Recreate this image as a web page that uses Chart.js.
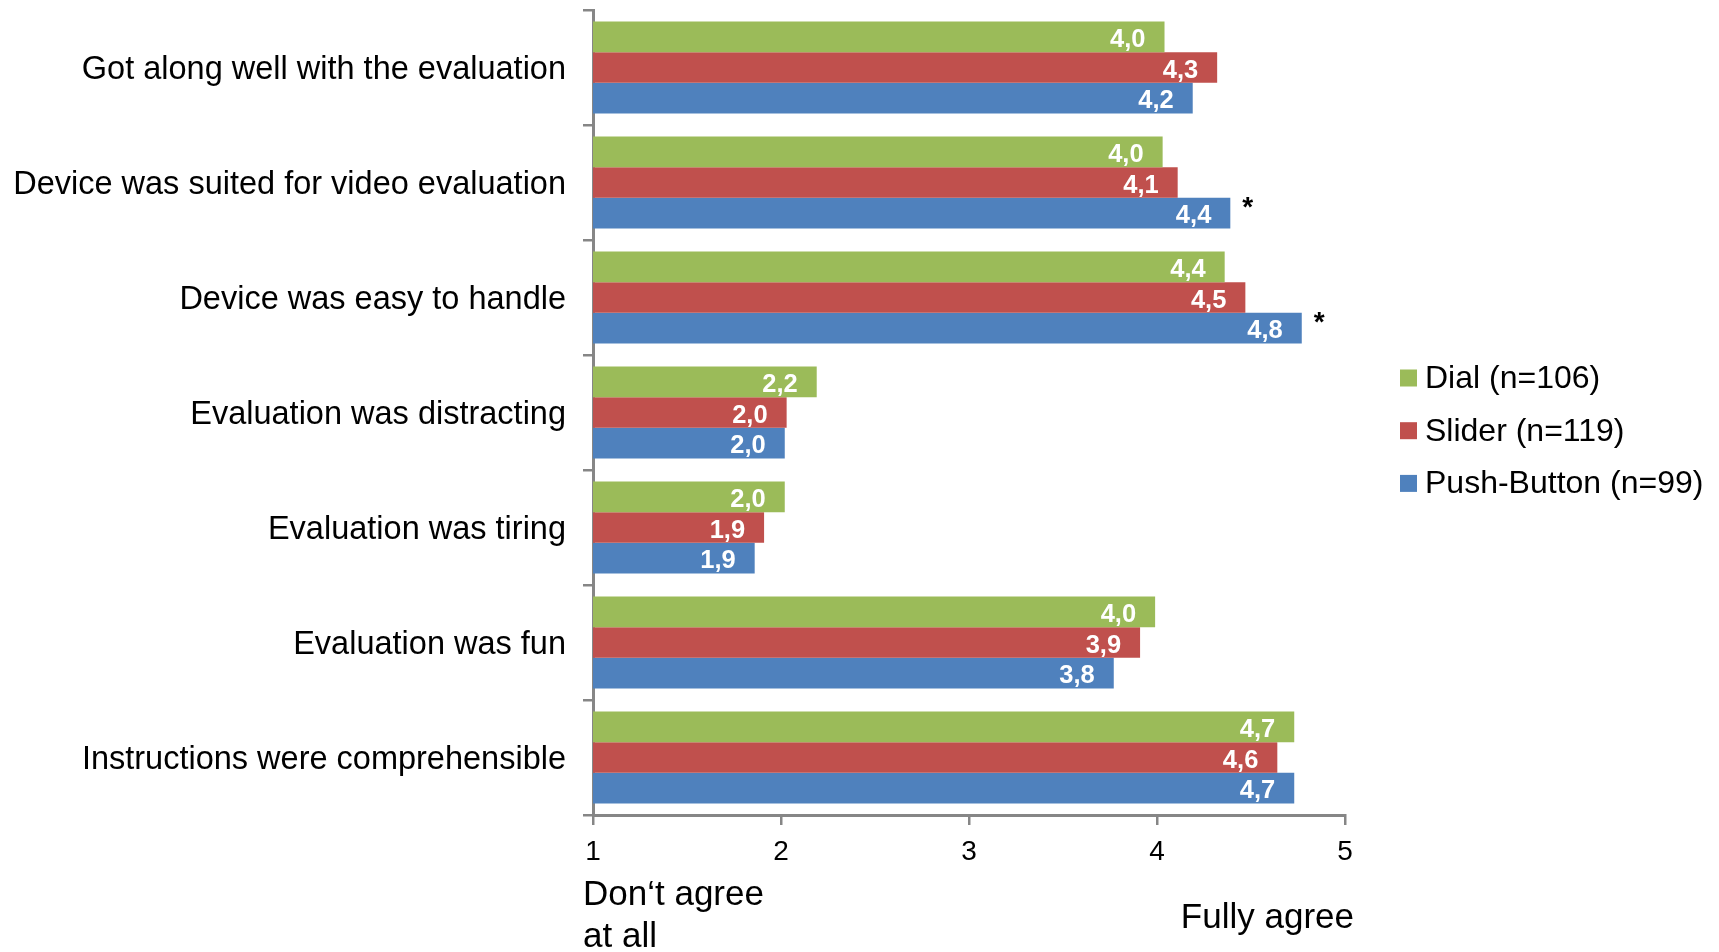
<!DOCTYPE html>
<html>
<head>
<meta charset="utf-8">
<title>Device evaluation ratings</title>
<script src="https://cdn.jsdelivr.net/npm/chart.js@4.4.1/dist/chart.umd.min.js"></script>
<style>
  html, body { margin: 0; padding: 0; background: #ffffff; }
  #wrap { position: relative; width: 1719px; height: 952px; }
</style>
</head>
<body>
<div id="wrap"><canvas id="chart"></canvas></div>
<script>
// Statements rated on a 1–5 agreement scale
const categories = [
  'Got along well with the evaluation',
  'Device was suited for video evaluation',
  'Device was easy to handle',
  'Evaluation was distracting',
  'Evaluation was tiring',
  'Evaluation was fun',
  'Instructions were comprehensible'
];

// Mean ratings per input device
const dialValues   = [4.04, 4.03, 4.36, 2.19, 2.02, 3.99, 4.73];
const sliderValues = [4.32, 4.11, 4.47, 2.03, 1.91, 3.91, 4.64];
const pushValues   = [4.19, 4.39, 4.77, 2.02, 1.86, 3.77, 4.73];

// Significant differences marked next to the Push-Button bar
const pushSignificant = [false, true, true, false, false, false, false];

const seriesNames  = ['Dial (n=106)', 'Slider (n=119)', 'Push-Button (n=99)'];
const seriesColors = ['#9BBB59', '#C0504D', '#4F81BD'];

// Scale range and end-point descriptions
const scaleMin = 1;
const scaleMax = 5;
const lowAnchor  = ['Don\u2018t agree', 'at all'];
const highAnchor = 'Fully agree';

const FONT = '"Liberation Sans", Arial, Helvetica, sans-serif';
const AXIS_GREY = '#868686';

Chart.defaults.font.family = FONT;
Chart.defaults.color = '#000000';

// Value labels inside the bar ends, plus significance asterisks
const barLabels = {
  id: 'barLabels',
  afterDatasetsDraw(chart) {
    const ctx = chart.ctx;
    ctx.save();
    chart.data.datasets.forEach((ds, di) => {
      const meta = chart.getDatasetMeta(di);
      meta.data.forEach((bar, i) => {
        const v = ds.data[i];
        ctx.font = 'bold 25.5px ' + FONT;
        ctx.fillStyle = '#ffffff';
        ctx.textAlign = 'right';
        ctx.textBaseline = 'middle';
        ctx.fillText(v.toFixed(1).replace('.', ','), bar.x - 19, bar.y + 3);
        if (di === 2 && pushSignificant[i]) {
          ctx.font = 'bold 28px ' + FONT;
          ctx.fillStyle = '#000000';
          ctx.textAlign = 'left';
          ctx.textBaseline = 'alphabetic';
          ctx.fillText('*', bar.x + 12, bar.y + 3);
        }
      });
    });
    ctx.restore();
  }
};

// Anchor texts under the scale ends and the series key on the right
const extras = {
  id: 'extras',
  afterDraw(chart) {
    const ctx = chart.ctx;
    const area = chart.chartArea;
    ctx.save();
    ctx.fillStyle = '#000000';
    ctx.font = '35px ' + FONT;
    ctx.textBaseline = 'alphabetic';
    ctx.textAlign = 'left';
    ctx.fillText(lowAnchor[0], area.left - 10, 905);
    ctx.fillText(lowAnchor[1], area.left - 10, 947);
    ctx.textAlign = 'right';
    ctx.fillText(highAnchor, area.right + 9, 928);

    // series key
    const keyX = 1400;
    const keyY0 = 378;
    const keyStep = 52.7;
    ctx.font = '32px ' + FONT;
    ctx.textAlign = 'left';
    ctx.textBaseline = 'middle';
    chart.data.datasets.forEach((ds, di) => {
      const cy = keyY0 + di * keyStep;
      ctx.fillStyle = ds.backgroundColor;
      ctx.fillRect(keyX, cy - 8.5, 17, 17);
      ctx.fillStyle = '#000000';
      ctx.fillText(ds.label, keyX + 25, cy + 1);
    });
    ctx.restore();
  }
};

const datasets = [dialValues, sliderValues, pushValues].map((vals, k) => ({
  label: seriesNames[k],
  data: vals,
  backgroundColor: seriesColors[k],
  borderWidth: 0,
  barPercentage: 1.0,
  categoryPercentage: 0.8
}));

new Chart(document.getElementById('chart'), {
  type: 'bar',
  data: { labels: categories, datasets },
  options: {
    indexAxis: 'y',
    responsive: true,
    maintainAspectRatio: false,
    animation: false,
    layout: { padding: { left: 0, top: 10, right: 374, bottom: 0 } },
    plugins: {
      legend: { display: false },
      tooltip: { enabled: false }
    },
    scales: {
      x: {
        type: 'linear',
        min: scaleMin,
        max: scaleMax,
        ticks: {
          stepSize: 1,
          padding: 10,
          font: { size: 28 },
          color: '#000000'
        },
        grid: {
          drawOnChartArea: false,
          drawTicks: true,
          tickLength: 10,
          color: AXIS_GREY,
          lineWidth: 2.5
        },
        border: { display: true, color: AXIS_GREY, width: 3 },
        afterFit(scale) {
          scale.height = 137;
          scale.paddingLeft = 0;
          scale.paddingRight = 0;
        }
      },
      y: {
        ticks: {
          padding: 17,
          labelOffset: 3,
          font: { size: 32.5 },
          color: '#000000'
        },
        grid: {
          offset: true,
          drawOnChartArea: false,
          drawTicks: true,
          tickLength: 10,
          color: AXIS_GREY,
          lineWidth: 2.5
        },
        border: { display: true, color: AXIS_GREY, width: 3 },
        afterFit(scale) {
          scale.width = 593;
          scale.paddingTop = 0;
          scale.paddingBottom = 0;
        }
      }
    }
  },
  plugins: [barLabels, extras]
});
</script>
</body>
</html>
